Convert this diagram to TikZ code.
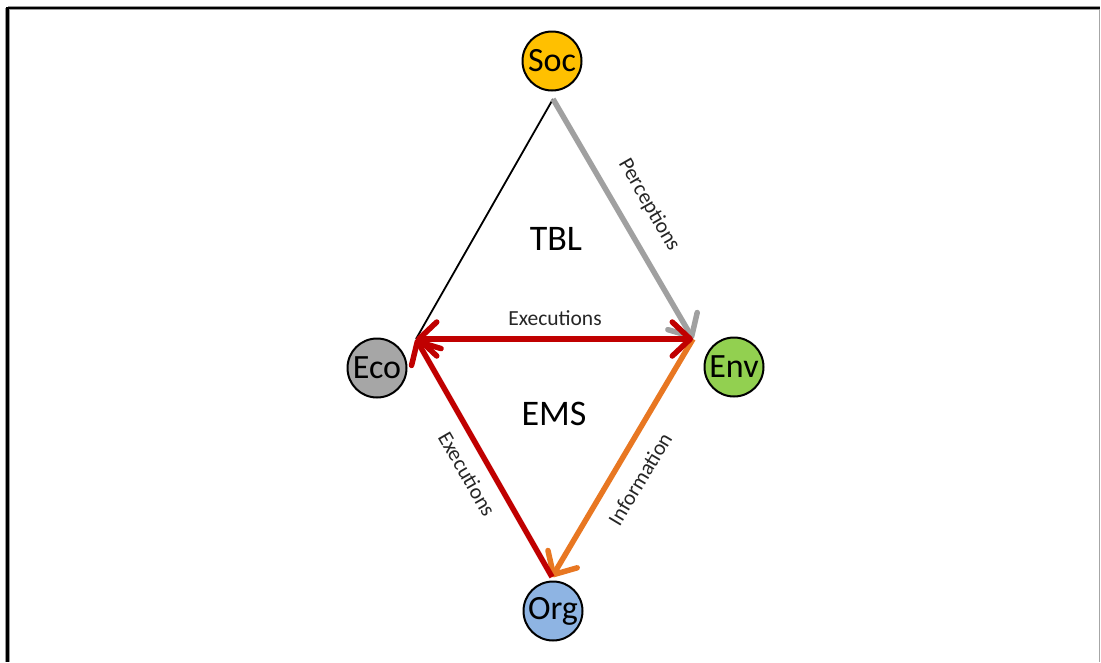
\documentclass[tikz,border=0pt]{standalone}
\usepackage{fontspec}
\setmainfont{Carlito}
\usetikzlibrary{arrows.meta}
\definecolor{socY}{HTML}{FFC000}
\definecolor{ecoG}{HTML}{A6A6A6}
\definecolor{envG}{HTML}{92D050}
\definecolor{orgB}{HTML}{8EB4E3}
\definecolor{arRed}{HTML}{C00000}
\definecolor{arOr}{HTML}{E87722}
\definecolor{arGr}{HTML}{A0A0A0}
\tikzset{
  circ/.style={circle,draw=black,line width=2pt,minimum size=59pt,inner sep=0pt,font=\fontsize{34}{34}\selectfont},
  lbl/.style={font=\fontsize{21.5}{21.5}\selectfont,text=black!85},
  big/.style={font=\fontsize{36}{36}\selectfont},
  tipb/.tip={Straight Barb[length=18pt,width=34pt,line width=5.5pt,line cap=round,line join=round]},
  barb/.style={-tipb},
  thick5/.style={line width=5.5pt}
}
\begin{document}
\begin{tikzpicture}[x=1pt,y=-1pt]
\useasboundingbox (0,0) rectangle (1101,662);
\fill[white] (0,0) rectangle (1101,662);
% frame
\draw[black!35,line width=1.5pt] (1099.5,8) -- (1099.5,662);
\draw[black!40,line width=4.5pt] (8,8) -- (1100,8);
\draw[black!40,line width=4.5pt] (7.5,8) -- (7.5,662);
\draw[black,line width=2.5pt] (7.5,8) -- (1100,8);
\draw[black,line width=2.5pt] (7.5,7) -- (7.5,662);
% nodes
\node[circ,fill=socY] (soc) at (552,61) {Soc};
\node[circ,fill=ecoG] (eco) at (377,368) {Eco};
\node[circ,fill=envG] (env) at (734,367) {Env};
\node[circ,fill=orgB] (org) at (553,611) {Org};
% vertices
\coordinate (top) at (553,99);
\coordinate (lft) at (416,339);
\coordinate (rgt) at (693,339);
\coordinate (bot) at (552,577);
% edges
\draw[black,line width=1.8pt] (top) -- (lft);
\draw[arOr,thick5,barb] (rgt) -- (bot);
\draw[arRed,thick5,barb] (bot) -- (lft);
\draw[arGr,thick5,barb] (top) -- (rgt);
\draw[arRed,thick5,tipb-tipb] (lft) -- (rgt);
% labels
\node[big] (tbl) at (556,239) {TBL};
\node[big] (ems) at (554,414) {EMS};
\node[lbl] (ex1) at (555,318) {Executions};
\node[lbl,rotate=-60] (perc) at (649,205) {Perceptions};
\node[lbl,rotate=-60] (ex2) at (467,474) {Executions};
\node[lbl,rotate=59] (info) at (640,479) {Information};
\end{tikzpicture}
\end{document}
